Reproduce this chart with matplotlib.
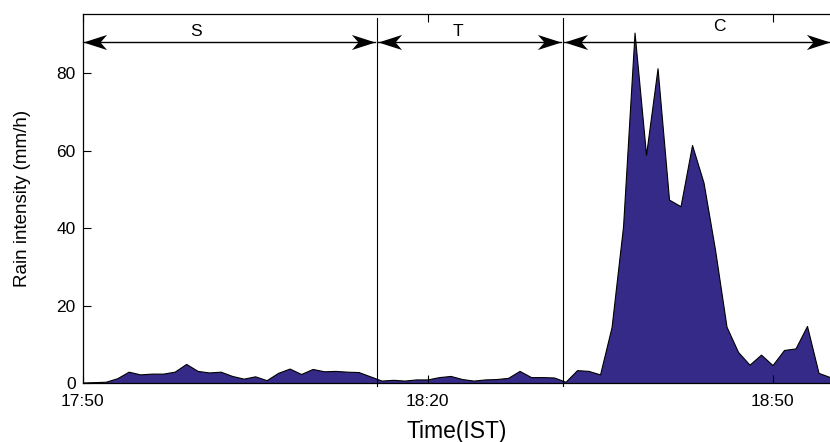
import numpy as np
import matplotlib.pyplot as plt
from matplotlib.path import Path

# one sample per minute starting 17:50 IST
minutes = np.arange(66)
rain = [0.2, 0.3, 0.4, 1.3, 3.0, 2.3, 2.5, 2.5, 3.0, 5.0,
        3.2, 2.8, 3.0, 1.9, 1.2, 1.8, 0.8, 2.7, 3.8, 2.4,
        3.7, 3.1, 3.2, 3.0, 2.9, 1.8, 0.7, 0.9, 0.7, 1.0,
        1.0, 1.6, 1.9, 1.1, 0.7, 1.0, 1.1, 1.4, 3.2, 1.6,
        1.6, 1.5, 0.4, 3.4, 3.2, 2.3, 14.5, 40.5, 90.5, 59.0,
        81.3, 47.4, 45.7, 61.5, 51.8, 34.5, 14.6, 8.1, 4.8, 7.4,
        4.7, 8.6, 9.0, 14.8, 2.7, 1.6]

xtick_pos = [0, 30, 60]
xtick_labels = ['17:50', '18:20', '18:50']
ytick_pos = [0, 20, 40, 60, 80]

# stage boundaries (minutes after 17:50) and labels
stage_names = ['S', 'T', 'C']
stage_bounds = [(0.0, 25.4), (25.7, 41.6), (41.9, 65.0)]
stage_label_x = [9.85, 32.6, 55.4]
stage_label_y = [90.8, 90.8, 92.0]
divider_x = [25.6, 41.8]

plt.rcParams['font.family'] = ['Liberation Sans', 'DejaVu Sans']

fig = plt.figure(figsize=(8.3, 4.42), dpi=100)
ax = fig.add_axes([0.0996, 0.1328, 0.9004, 0.8355])

ax.fill_between(minutes, rain, 0, facecolor='#352a87', edgecolor='black', linewidth=0.8)

# notched arrowhead marker, tip at the origin
head_r = Path([(0, 0), (-1, 0.32), (-0.72, 0), (-1, -0.32), (0, 0)],
              [Path.MOVETO, Path.LINETO, Path.LINETO, Path.LINETO, Path.CLOSEPOLY])
head_l = Path([(0, 0), (1, 0.32), (0.72, 0), (1, -0.32), (0, 0)],
              [Path.MOVETO, Path.LINETO, Path.LINETO, Path.LINETO, Path.CLOSEPOLY])

arrow_y = 88.0
for name, (x0, x1), lx, ly in zip(stage_names, stage_bounds, stage_label_x, stage_label_y):
    ax.plot([x0, x1], [arrow_y, arrow_y], color='black', lw=1.0, clip_on=False)
    ax.plot([x0], [arrow_y], marker=head_l, ms=34, color='black', mew=0, clip_on=False)
    ax.plot([x1], [arrow_y], marker=head_r, ms=34, color='black', mew=0, clip_on=False)
    ax.text(lx, ly, name, ha='center', va='center', fontsize=12.5)

for dx in divider_x:
    ax.plot([dx, dx], [-0.7, 94.3], color='black', lw=0.8, clip_on=False)

ax.set_xlim(0, 65)
ax.set_ylim(0, 95.3)
ax.set_xticks(xtick_pos)
ax.set_xticklabels(xtick_labels)
ax.set_yticks(ytick_pos)
ax.tick_params(direction='in', length=6, width=0.8, labelsize=12.5, top=True)
ax.tick_params(axis='x', pad=8)
ax.tick_params(axis='y', pad=5)
ax.spines['right'].set_visible(False)
for s in ['left', 'top', 'bottom']:
    ax.spines[s].set_linewidth(0.9)

ax.set_xlabel('Time(IST)', fontsize=16.5, labelpad=7.5)
ax.set_ylabel('Rain intensity (mm/h)', fontsize=13.5, labelpad=18)

fig.savefig('out.png', dpi=100)
